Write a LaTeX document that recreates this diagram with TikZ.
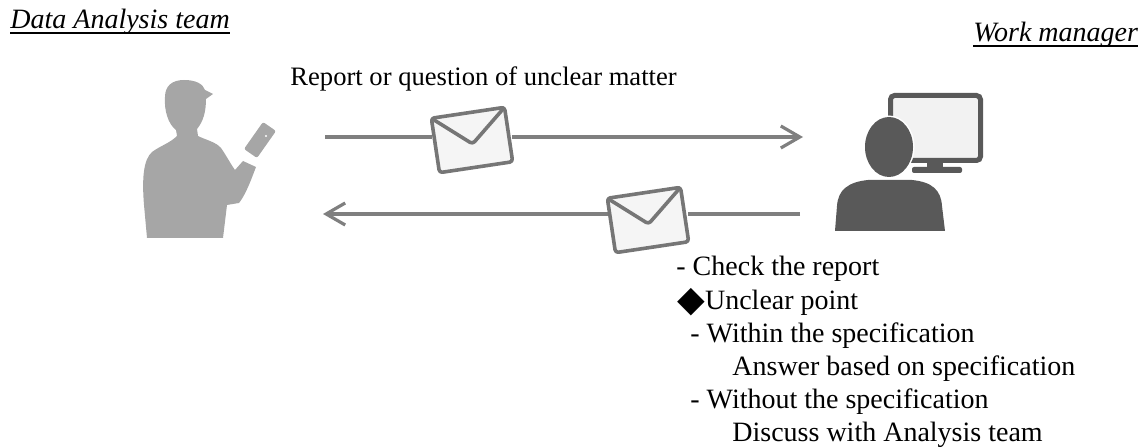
\documentclass[tikz,border=0pt]{standalone}
\usepackage{fontspec}
\setmainfont{Liberation Serif}
\newfontfamily\symfont{DejaVu Sans}
\usepackage{tikz}
\usetikzlibrary{arrows.meta, positioning, shapes}
\definecolor{staff}{RGB}{166,166,166}
\definecolor{boss}{RGB}{89,89,89}
\definecolor{wire}{RGB}{127,127,127}
\definecolor{mailgray}{RGB}{118,118,118}
\tikzstyle{txt} = [anchor=base west, inner sep=0pt, font=\fontsize{14pt}{16pt}\selectfont]
\tikzstyle{header} = [txt, font=\fontsize{14pt}{16pt}\selectfont\itshape]
\tikzstyle{mailbox} = [rectangle, fill=white, minimum width=40pt, minimum height=35pt, inner sep=0pt]
\tikzstyle{arrow} = [draw=wire, line width=1.6pt, -{Straight Barb[length=9.5pt, width=11pt]}]
\tikzstyle{envelope} = [draw=mailgray, line width=1.8pt, rounded corners=1.5pt, line join=round]
% envelope icon: #1 name of its white box, #2 position
\newcommand{\mailicon}[2]{%
	\node (#1) [mailbox] at #2 {};
	\begin{scope}[shift={(#1.center)}, rotate=8.5]
		\draw [envelope, fill=black!4] (-37,-27.5) rectangle (37,27.5);
		\draw [envelope] (-37,-27.5) -- (0,4) -- (37,-27.5);
	\end{scope}}

\begin{document}
\begin{tikzpicture}[x=0.5pt, y=-0.5pt]
	\useasboundingbox (0,0) rectangle (1146,448);
	
	% Headers
	\node (team) [header] at (10,29) {Data Analysis team};
	\node (mgr) [header] at (973,42) {Work manager};
	\draw [line width=1pt] ([yshift=-1.8pt]team.base west) -- ([yshift=-1.8pt]team.base east);
	\draw [line width=1pt] ([yshift=-1.8pt]mgr.base west) -- ([yshift=-1.8pt]mgr.base east);
	
	% Analyst with phone
	\fill [staff] (147,238) -- (144,205) .. controls (142,180) and (143,160) .. (152,152)
		.. controls (160,146) and (170,143) .. (177,136) -- (176,130)
		.. controls (168,124) and (164,110) .. (165,97)
		.. controls (165,86) and (172,80) .. (184,80)
		.. controls (196,80) and (203,84) .. (205,90)
		-- (213,94) -- (206,99)
		.. controls (206,112) and (203,122) .. (197,129) -- (198,136)
		.. controls (206,140) and (216,142) .. (221,148)
		.. controls (226,155) and (230,163) .. (235,170)
		-- (243,161) -- (256,167) -- (251,180)
		.. controls (247,190) and (243,198) .. (239,203)
		-- (227,205) -- (223,238) -- cycle;
	\fill [staff, rounded corners=1pt] (244,149) -- (263,122) -- (276,131) -- (257,158) -- cycle;
	\fill [white] (266,136) circle (1.2);
	
	% Manager at the screen
	\draw [boss, line width=2.5pt, fill=black!5, rounded corners=2pt] (890.5,95.5) rectangle (980.5,160.5);
	\fill [boss] (927,162) rectangle (943,169);
	\fill [boss, rounded corners=1pt] (912,167) rectangle (962,173);
	\path [fill=boss, preaction={draw=white, line width=1.5pt}]
		(835,231) -- (837,206) .. controls (838,190) and (848,182) .. (868,180)
		-- (912,180) .. controls (932,182) and (941,190) .. (942,206) -- (945,231) -- cycle
		(889,147) ellipse (24 and 30);
	
	% Arrows
	\coordinate (repFrom) at (325,137);
	\coordinate (repTo) at (803,137);
	\coordinate (ansFrom) at (800,214);
	\coordinate (ansTo) at (323,214);
	\draw [arrow] (repFrom) -- (repTo);
	\draw [arrow] (ansFrom) -- (ansTo);
	\mailicon{mailA}{(472,140)}
	\mailicon{mailB}{(648,220)}
	
	% Texts
	\node (ask) [txt, font=\fontsize{13.3pt}{15pt}\selectfont] at (290,86) {Report or question of unclear matter};
	\node (l1) [txt] at (676,276) {- Check the report};
	\node (l2) [txt] at (677,310) {{\symfont\fontsize{18pt}{18pt}\selectfont\raisebox{-0.6pt}{◆}}Unclear point};
	\node (l3) [txt] at (690,343) {- Within the specification};
	\node (l4) [txt] at (732,376) {Answer based on specification};
	\node (l5) [txt] at (690,409) {- Without the specification};
	\node (l6) [txt] at (732,442) {Discuss with Analysis team};
	
\end{tikzpicture}
\end{document}
